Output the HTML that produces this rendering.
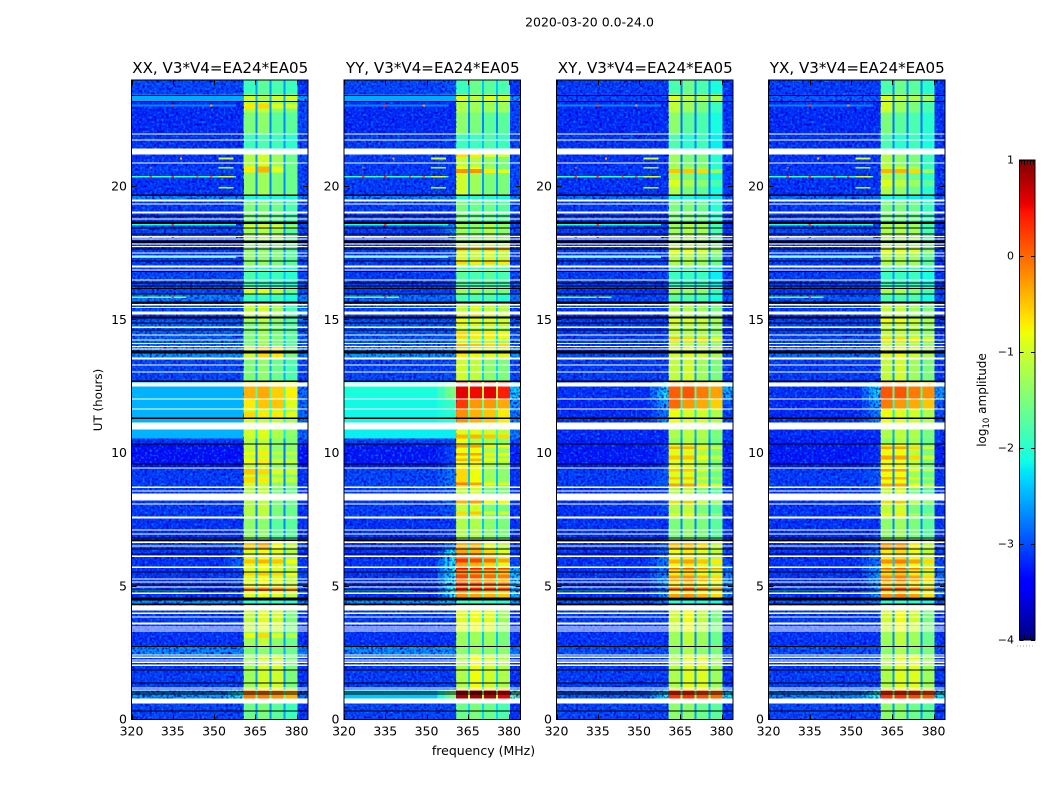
<!DOCTYPE html>
<html lang="en">
<head>
<meta charset="utf-8">
<title>2020-03-20 0.0-24.0</title>
<style>
html,body{margin:0;padding:0;background:#fff;width:1050px;height:800px;overflow:hidden}
svg{display:block}
text{font-family:"DejaVu Sans","Liberation Sans",sans-serif;fill:#000}
</style>
</head>
<body>
<svg id="figure" xmlns="http://www.w3.org/2000/svg" width="1050" height="800" viewBox="0 0 1050 800">
  <defs>
    <filter id="speckle-light" x="0" y="0" width="1" height="1" color-interpolation-filters="sRGB">
      <feTurbulence type="fractalNoise" baseFrequency="0.42" numOctaves="1" seed="3"/>
      <feColorMatrix type="matrix" values="0 0 0 0 0  0 0 0 0 0.55  0 0 0 0 1  3.2 0 0 0 -1.7"/>
    </filter>
    <filter id="speckle-dark" x="0" y="0" width="1" height="1" color-interpolation-filters="sRGB">
      <feTurbulence type="fractalNoise" baseFrequency="0.42" numOctaves="1" seed="11"/>
      <feColorMatrix type="matrix" values="0 0 0 0 0  0 0 0 0 0  0 0 0 0 0.82  0 3.2 0 0 -1.4"/>
    </filter>
    <linearGradient id="jet-gradient" x1="0" y1="1" x2="0" y2="0"></linearGradient>
  </defs>
  <text x="589.5" y="26.5" font-size="12.5" text-anchor="middle">2020-03-20 0.0-24.0</text>
  <text x="483.5" y="755" font-size="12.5" text-anchor="middle">frequency (MHz)</text>
  <text x="0" y="0" font-size="11.9" text-anchor="middle" transform="translate(102,400) rotate(-90)">UT (hours)</text>
  <text x="0" y="0" font-size="12" text-anchor="middle" transform="translate(986,400) rotate(-90)">log<tspan font-size="8.5" dy="3">10</tspan><tspan dy="-3"> amplitude</tspan></text>
</svg>
<script>
// ---- data -----------------------------------------------------------------
const panelTitles = ['XX, V3*V4=EA24*EA05','YY, V3*V4=EA24*EA05','XY, V3*V4=EA24*EA05','YX, V3*V4=EA24*EA05'];
const xTickLabels = [320,335,350,365,380];
const yTickLabels = [0,5,10,15,20];
const colorbarTicks = [-4,-3,-2,-1,0,1];

// band edges in MHz: [start,end] of the four bright sub-bands
const bandEdgesMHz = [[360.8,365],[365.8,370.2],[370.9,375.3],[376,380.4]];

// time-segment boundaries (UT hours), descending
const segmentEdgesUT = [24,23.45,23.19,22.77,21.97,21.2,20.75,20.52,19.66,19.51,18.68,17.97,17.03,16.21,15.95,15.61,14.97,14.03,13.58,12.72,12.01,11.63,10.88,10.54,10.32,9.42,8.70,7.54,6.72,6.42,5.70,4.58,4.28,3.30,2.74,2.44,1.09,0.79,0];

// log10 amplitude per segment: [background, shoulder, band1, band2, band3, band4, right-edge, notch]
const levelsXX = [
[-3.0,-3.0,-1.9,-1.7,-1.8,-1.9,-3.1,-2.6],
[-2.55,-2.55,-1.0,-1.2,-1.0,-1.0,-2.55,-2.5],
[-3.15,-3.15,-1.2,-1.1,-1.4,-1.5,-3.0,-2.6],
[-3.15,-3.15,-1.5,-1.4,-1.7,-1.7,-3.0,-2.7],
[-3.1,-3.1,-1.9,-1.8,-1.9,-2.0,-3.0,-2.6],
[-3.1,-3.1,-1.2,-1.0,-1.3,-1.6,-3.0,-2.6],
[-3.0,-3.0,-0.7,-0.4,-0.9,-1.6,-3.0,-2.6],
[-3.1,-3.1,-1.4,-1.3,-1.5,-1.6,-3.0,-2.7],
[-2.7,-2.7,-2.1,-2.1,-2.1,-2.1,-2.7,-2.4],
[-3.05,-3.05,-1.5,-1.5,-1.6,-1.8,-3.0,-2.6],
[-3.0,-3.0,-1.3,-1.2,-1.3,-1.7,-3.0,-2.6],
[-3.05,-3.05,-1.4,-1.4,-1.5,-1.7,-3.0,-2.6],
[-3.0,-3.0,-1.8,-1.9,-1.9,-2.0,-3.0,-2.4],
[-3.0,-3.0,-1.0,-0.9,-1.1,-1.6,-3.0,-2.6],
[-2.7,-2.7,-1.9,-1.9,-1.9,-2.1,-2.7,-2.4],
[-3.0,-3.0,-1.1,-1.0,-1.3,-1.8,-2.7,-2.6],
[-2.85,-2.85,-1.5,-1.3,-1.5,-1.7,-2.9,-2.4],
[-2.6,-2.6,-1.0,-0.6,-0.7,-1.5,-2.7,-2.4],
[-3.0,-3.0,-1.5,-1.4,-1.6,-1.8,-3.0,-2.5],
[-2.5,-2.5,-0.4,-0.35,-0.55,-0.75,-2.8,-1.7],
[-2.5,-2.5,-0.7,-0.5,-0.5,-0.9,-2.8,-2.0],
[-2.5,-2.5,-1.0,-1.1,-1.1,-1.3,-2.8,-2.1],
[-2.5,-2.5,-1.0,-0.9,-1.2,-1.4,-2.8,-2.2],
[-3.1,-3.1,-1.2,-1.1,-1.4,-1.5,-3.0,-2.6],
[-3.3,-3.3,-1.1,-1.0,-1.4,-1.4,-3.3,-2.8],
[-3.05,-3.05,-1.0,-1.1,-1.4,-1.5,-3.1,-2.7],
[-3.05,-3.05,-1.2,-1.1,-1.5,-1.6,-3.1,-2.7],
[-3.1,-3.1,-1.4,-1.4,-1.7,-1.7,-3.1,-2.7],
[-3.0,-2.9,-0.5,-0.35,-0.8,-1.1,-3.0,-2.4],
[-3.1,-2.8,-0.9,-0.8,-0.9,-1.2,-3.1,-2.4],
[-3.1,-3.0,-0.9,-0.8,-0.9,-1.1,-3.0,-2.4],
[-2.6,-2.6,-2.0,-1.9,-1.9,-2.0,-2.7,-2.4],
[-3.05,-3.05,-1.1,-0.9,-1.0,-1.5,-3.1,-2.5],
[-3.1,-3.1,-1.3,-1.1,-1.4,-1.6,-3.1,-2.6],
[-2.65,-2.65,-1.5,-1.4,-1.5,-1.6,-2.7,-2.5],
[-3.05,-3.05,-1.3,-1.0,-1.0,-1.5,-3.1,-2.6],
[-2.6,-2.1,-0.1,-0.1,-0.2,-0.4,-2.8,-1.6],
[-3.0,-3.0,-1.6,-1.5,-1.7,-1.9,-3.1,-2.6]
];
const levelsYY = [
[-3.0,-2.9,-1.9,-1.6,-1.7,-1.8,-3.1,-2.4],
[-2.55,-2.55,-0.9,-1.1,-0.9,-1.0,-2.6,-2.5],
[-3.15,-3.15,-1.2,-1.3,-1.3,-1.3,-3.0,-2.6],
[-3.15,-3.15,-1.4,-1.5,-1.7,-1.7,-3.0,-2.7],
[-3.05,-3.05,-1.9,-1.9,-1.8,-1.9,-3.0,-2.4],
[-3.05,-3.05,-1.1,-1.2,-1.4,-1.5,-3.0,-2.6],
[-3.05,-3.05,-0.8,-0.8,-1.3,-1.5,-3.0,-2.6],
[-3.05,-3.05,-1.0,-1.3,-1.5,-1.5,-3.0,-2.6],
[-2.7,-2.7,-2.0,-2.0,-2.0,-2.1,-2.7,-2.4],
[-3.05,-3.05,-1.5,-1.6,-1.6,-1.7,-3.0,-2.4],
[-3.05,-2.7,-1.3,-1.4,-1.2,-1.4,-3.0,-2.2],
[-3.05,-2.9,-1.0,-1.1,-1.0,-1.1,-3.0,-2.2],
[-3.05,-3.05,-1.7,-1.8,-1.7,-1.8,-3.0,-2.2],
[-3.05,-3.05,-1.3,-1.3,-1.4,-1.5,-3.0,-2.4],
[-2.8,-2.8,-1.8,-1.8,-1.8,-2.0,-2.8,-2.4],
[-3.0,-3.0,-1.1,-1.0,-1.1,-1.2,-3.0,-2.3],
[-2.9,-2.9,-1.1,-1.2,-1.2,-1.3,-2.9,-2.2],
[-2.6,-2.6,-0.7,-0.8,-0.9,-0.9,-2.6,-2.1],
[-3.0,-3.0,-1.0,-1.1,-1.4,-1.5,-3.0,-2.3],
[-2.1,-1.5,0.55,0.5,0.55,0.4,-2.3,-1.2],
[-2.15,-1.9,0.25,-0.25,-0.25,-0.35,-2.6,-1.6],
[-2.15,-2.0,-0.2,-0.4,-0.5,-0.7,-2.7,-1.7],
[-2.2,-2.2,-0.9,-0.9,-1.0,-1.1,-2.7,-1.9],
[-3.0,-3.0,-0.8,-1.2,-1.3,-1.4,-3.0,-2.2],
[-3.25,-3.0,-0.8,-0.8,-1.2,-1.3,-3.2,-2.5],
[-3.0,-2.7,-0.6,-0.8,-1.3,-1.4,-3.1,-2.4],
[-3.05,-2.9,-1.1,-1.0,-1.5,-1.5,-3.1,-2.4],
[-3.1,-3.1,-1.2,-1.2,-1.4,-1.5,-3.1,-2.4],
[-3.1,-2.8,-0.4,-0.4,-0.9,-1.1,-3.1,-2.2],
[-3.1,-2.1,-0.3,-0.4,-0.6,-0.9,-3.0,-2.0],
[-3.1,-2.1,-0.2,-0.3,-0.4,-0.5,-2.4,-1.9],
[-2.6,-2.4,-1.9,-1.8,-1.9,-2.0,-2.6,-2.2],
[-3.05,-3.05,-0.9,-0.8,-0.9,-1.3,-3.1,-2.2],
[-3.1,-3.1,-1.3,-1.3,-1.3,-1.5,-3.1,-2.4],
[-2.62,-2.6,-1.4,-1.3,-1.4,-1.4,-2.7,-2.3],
[-3.05,-3.05,-1.2,-0.8,-1.0,-1.2,-3.1,-2.3],
[-2.4,-1.5,0.8,0.85,0.75,0.55,-1.7,-1.2],
[-3.0,-3.0,-1.6,-1.5,-1.6,-1.8,-3.1,-2.3]
];
const levelsXY = [
[-3.05,-3.05,-1.8,-1.6,-1.8,-2.1,-3.1,-2.7],
[-3.0,-3.0,-0.9,-1.1,-1.2,-1.2,-3.0,-2.7],
[-3.15,-3.15,-1.1,-1.3,-1.5,-1.9,-3.1,-2.8],
[-3.15,-3.15,-1.4,-1.7,-1.8,-2.1,-3.1,-2.8],
[-3.1,-3.1,-1.8,-2.0,-1.9,-2.2,-3.1,-2.7],
[-3.1,-3.1,-1.3,-1.5,-1.5,-2.0,-3.1,-2.8],
[-3.05,-3.05,-1.2,-1.2,-1.3,-2.0,-3.1,-2.8],
[-3.1,-3.1,-1.2,-1.5,-1.7,-2.1,-3.1,-2.8],
[-2.8,-2.8,-2.1,-2.1,-2.2,-2.2,-2.9,-2.5],
[-3.05,-3.05,-1.5,-1.5,-1.6,-2.0,-3.1,-2.7],
[-3.05,-3.05,-1.3,-1.2,-1.3,-1.8,-3.1,-2.8],
[-3.05,-3.05,-1.2,-1.2,-1.3,-1.6,-3.1,-2.7],
[-3.05,-3.05,-1.9,-1.9,-1.9,-2.2,-3.1,-2.6],
[-3.1,-3.1,-1.3,-1.3,-1.4,-1.9,-3.1,-2.7],
[-3.0,-3.0,-1.7,-1.8,-1.8,-2.1,-3.0,-2.6],
[-3.05,-3.05,-1.2,-1.2,-1.3,-1.5,-3.1,-2.7],
[-3.05,-3.05,-1.1,-1.2,-1.2,-1.4,-3.1,-2.6],
[-3.0,-3.0,-1.0,-0.9,-1.0,-1.2,-3.0,-2.5],
[-3.05,-3.05,-1.1,-1.0,-1.3,-1.5,-3.1,-2.6],
[-3.1,-2.2,0.05,0.1,-0.1,-0.3,-2.5,-1.7],
[-3.15,-2.5,0.0,-0.25,-0.35,-0.55,-2.9,-2.0],
[-3.15,-2.7,-0.8,-0.95,-1.0,-1.2,-3.0,-2.2],
[-3.15,-3.15,-1.2,-1.1,-1.2,-1.5,-3.1,-2.5],
[-3.2,-3.2,-1.4,-1.2,-1.3,-1.6,-3.1,-2.6],
[-3.25,-3.1,-0.9,-0.9,-1.2,-1.5,-3.2,-2.7],
[-3.05,-2.9,-0.9,-0.9,-1.3,-1.6,-3.1,-2.7],
[-3.1,-3.0,-1.2,-1.1,-1.5,-1.7,-3.1,-2.7],
[-3.1,-3.1,-1.5,-1.4,-1.5,-1.7,-3.1,-2.7],
[-3.1,-2.9,-0.45,-0.45,-0.6,-1.1,-3.1,-2.5],
[-3.1,-2.7,-0.8,-0.7,-0.9,-1.1,-3.0,-2.4],
[-3.1,-2.6,-0.7,-0.6,-0.8,-1.0,-2.7,-2.3],
[-2.9,-2.7,-2.0,-2.0,-2.0,-2.1,-2.9,-2.6],
[-3.05,-3.05,-1.0,-0.8,-1.1,-1.5,-3.1,-2.6],
[-3.1,-3.1,-1.3,-1.1,-1.3,-1.6,-3.1,-2.7],
[-2.95,-2.95,-1.4,-1.2,-1.4,-1.5,-3.0,-2.6],
[-3.05,-3.05,-1.2,-0.9,-0.9,-1.3,-3.1,-2.6],
[-2.9,-2.2,0.3,0.3,0.15,0.0,-2.2,-1.5],
[-3.0,-3.0,-1.4,-1.4,-1.6,-1.7,-3.1,-2.6]
];
const levelsYX = [
[-3.05,-3.05,-1.8,-1.6,-1.7,-2.0,-3.1,-2.7],
[-2.9,-2.9,-0.9,-1.1,-1.2,-1.3,-3.0,-2.7],
[-3.15,-3.15,-1.0,-1.3,-1.5,-1.8,-3.1,-2.8],
[-3.15,-3.15,-1.5,-1.7,-1.8,-2.0,-3.1,-2.8],
[-3.1,-3.1,-1.8,-2.0,-1.9,-2.1,-3.1,-2.7],
[-3.1,-3.1,-1.2,-1.4,-1.5,-1.9,-3.1,-2.8],
[-3.05,-3.05,-1.0,-1.0,-1.2,-1.9,-3.1,-2.8],
[-3.1,-3.1,-1.2,-1.4,-1.6,-2.0,-3.1,-2.8],
[-2.8,-2.8,-2.1,-2.1,-2.2,-2.2,-2.9,-2.5],
[-3.05,-3.05,-1.5,-1.5,-1.6,-1.9,-3.1,-2.7],
[-3.0,-3.0,-1.2,-1.2,-1.3,-1.8,-3.1,-2.8],
[-3.05,-3.05,-1.2,-1.2,-1.3,-1.7,-3.1,-2.7],
[-3.05,-3.05,-1.9,-1.9,-1.9,-2.1,-3.1,-2.6],
[-3.1,-3.1,-1.2,-1.2,-1.4,-1.8,-3.1,-2.7],
[-2.9,-2.9,-1.8,-1.8,-1.8,-2.1,-3.0,-2.6],
[-3.05,-3.05,-1.1,-1.1,-1.3,-1.5,-3.1,-2.7],
[-3.0,-3.0,-1.1,-1.1,-1.2,-1.4,-3.1,-2.6],
[-2.8,-2.8,-0.9,-0.8,-1.0,-1.2,-2.9,-2.5],
[-3.05,-3.05,-1.1,-1.0,-1.3,-1.5,-3.1,-2.6],
[-3.1,-2.2,0.1,0.1,-0.1,-0.2,-2.6,-1.7],
[-3.15,-2.5,-0.1,-0.25,-0.35,-0.5,-2.9,-2.0],
[-3.15,-2.7,-0.8,-0.9,-1.0,-1.2,-3.0,-2.2],
[-3.15,-3.15,-1.2,-1.1,-1.2,-1.5,-3.1,-2.5],
[-3.2,-3.2,-1.4,-1.2,-1.3,-1.6,-3.1,-2.6],
[-3.25,-3.1,-0.8,-0.8,-1.1,-1.5,-3.2,-2.7],
[-3.05,-2.9,-0.8,-0.8,-1.3,-1.6,-3.1,-2.7],
[-3.1,-3.0,-1.1,-1.0,-1.5,-1.7,-3.1,-2.7],
[-3.1,-3.1,-1.4,-1.3,-1.5,-1.7,-3.1,-2.7],
[-3.1,-2.9,-0.25,-0.25,-0.7,-1.1,-3.1,-2.5],
[-3.1,-2.7,-0.7,-0.6,-0.8,-1.1,-3.0,-2.4],
[-3.1,-2.6,-0.6,-0.5,-0.7,-1.0,-2.8,-2.3],
[-2.9,-2.7,-2.0,-1.9,-2.0,-2.1,-2.9,-2.6],
[-3.05,-3.05,-1.0,-0.8,-1.0,-1.5,-3.1,-2.6],
[-3.1,-3.1,-1.3,-1.1,-1.3,-1.6,-3.1,-2.7],
[-2.95,-2.95,-1.4,-1.2,-1.4,-1.5,-3.0,-2.6],
[-3.05,-3.05,-1.2,-0.9,-0.9,-1.3,-3.1,-2.6],
[-2.7,-2.0,0.3,0.3,0.2,0.1,-2.2,-1.5],
[-3.0,-3.0,-1.4,-1.4,-1.6,-1.7,-3.1,-2.6]
];
const panelLevels = [levelsXX, levelsYY, levelsXY, levelsYX];

// brighter sub-rows inside the bands: [lowUT, highUT, added log10 amplitude]
const stripesXX = [[22.93,23.12,0.5],[18.43,18.55,0.5],[11.3,11.55,0.4],[9.95,10.05,0.3],[9.6,9.8,0.3],[9.2,9.4,0.5],[8.9,9.1,0.4],[5.85,6.0,0.4],[5.4,5.5,0.3],[4.83,4.95,0.7],[3.05,3.25,0.5]];
const stripesYY = [[21.1,21.2,0.5],[20.5,20.65,0.6],[17.6,17.75,0.6],[17.1,17.25,0.4],[15.15,15.25,0.4],[14.8,15.05,0.3],[14.45,14.55,0.5],[14.3,14.45,0.5],[13.95,14.1,0.3],[10.55,10.7,0.5],[10.2,10.3,0.5],[9.9,10.0,0.5],[9.7,9.8,0.4],[8.8,8.9,0.5],[8.1,8.22,0.7],[7.7,7.8,0.5],[5.9,6.05,0.6],[5.62,5.68,0.7],[5.3,5.45,0.4],[5.05,5.14,0.5],[4.88,4.95,0.7]];
const stripesXY = [[20.5,20.65,0.7],[20.0,20.25,0.3],[17.5,17.65,0.4],[14.85,15.1,0.3],[14.2,14.35,0.6],[10.15,10.25,0.5],[9.75,9.9,0.4],[9.3,9.4,0.4],[9.0,9.1,0.4],[8.75,8.85,0.6],[8.1,8.2,0.6],[7.65,7.75,0.3],[5.85,6.0,0.4],[5.62,5.68,0.7],[5.3,5.4,0.4],[5.2,5.25,0.4],[4.85,4.95,0.8],[4.6,4.7,0.4]];
const stripesYX = [[20.5,20.65,0.6],[20.0,20.25,0.3],[17.5,17.65,0.4],[14.85,15.1,0.3],[14.2,14.35,0.5],[10.15,10.25,0.5],[9.75,9.9,0.5],[9.3,9.4,0.5],[9.0,9.1,0.4],[8.75,8.85,0.5],[8.1,8.2,0.5],[7.65,7.75,0.3],[5.85,6.0,0.5],[5.62,5.68,0.6],[5.3,5.4,0.4],[5.2,5.25,0.4],[4.85,4.95,0.7],[4.6,4.7,0.4]];
const panelStripes = [stripesXX, stripesYY, stripesXY, stripesYX];

// flagged (blank) time ranges, [lowUT, highUT]
const flaggedUT = [[21.95,21.99],[21.72,21.76],[21.20,21.42],[20.86,20.90],[19.44,19.51],[19.32,19.36],[18.98,19.06],[18.76,18.80],[18.10,18.14],[18.01,18.05],[17.82,17.86],[17.73,17.77],[17.48,17.52],[17.37,17.41],[16.96,17.03],[16.85,16.88],[16.47,16.51],[15.53,15.59],[15.44,15.48],[15.25,15.31],[15.20,15.25],[14.69,14.75],[14.41,14.44],[14.22,14.26],[14.09,14.13],[13.98,14.01],[13.88,13.92],[13.51,13.58],[13.28,13.32],[13.02,13.06],[12.49,12.64],[12.01,12.04],[11.63,11.67],[10.88,11.14],[9.42,9.46],[8.69,8.74],[8.55,8.59],[8.22,8.48],[8.07,8.10],[7.54,7.62],[7.09,7.13],[6.94,6.98],[6.62,6.68],[6.49,6.53],[6.10,6.15],[5.68,5.74],[5.25,5.29],[5.14,5.18],[4.95,4.99],[4.71,4.76],[4.09,4.28],[3.96,4.01],[3.83,3.86],[3.56,3.64],[3.45,3.49],[3.38,3.41],[3.30,3.34],[2.40,2.44],[2.31,2.36],[2.21,2.25],[2.12,2.18],[2.01,2.06],[1.16,1.20],[1.09,1.13],[0.60,0.79]];

// zero-amplitude (black) time ranges, [lowUT, highUT]
const zeroUT = [[23.39,23.43],[23.17,23.21],[19.64,19.70],[18.87,18.91],[18.59,18.68],[18.42,18.46],[18.20,18.23],[17.88,17.97],[17.63,17.67],[17.18,17.22],[16.79,16.83],[16.36,16.40],[16.25,16.28],[16.15,16.19],[15.95,15.98],[15.61,15.68],[15.05,15.12],[14.86,14.90],[14.60,14.63],[13.73,13.84],[12.66,12.72],[11.27,11.33],[10.32,10.36],[9.57,9.61],[6.79,6.83],[6.70,6.75],[6.38,6.42],[6.19,6.23],[5.52,5.55],[5.03,5.07],[4.84,4.88],[4.46,4.58],[4.30,4.35],[2.72,2.76],[1.84,1.88],[1.35,1.39],[1.01,1.05],[0.94,0.98],[0.30,0.34]];

// narrow-band interference: [UT, startMHz, endMHz, level]
const rfiLines = [[23.04,320,358,-2.7],[21.05,351.6,357,-1.0],[20.71,351.6,357,-1.2],[20.37,320,358,-1.9],[20.37,351.6,357,-0.9],[19.96,351.6,357,-1.2],[18.57,320,358,-2.0],[18.09,320,358,-1.9],[18.09,320,337,-1.2],[17.34,320,358,-1.9],[15.84,320,340,-1.6],[4.85,320,345,-2.3]];

// isolated hot channels: [UT, MHz, level]
const rfiSpikes = [[23.04,335,0.2],[23.04,349,-0.3],[20.37,327,0.2],[20.37,335,0.3],[20.37,344,0.1],[20.37,349,0.1],[18.57,335,0.2],[18.09,327,0.1],[18.09,335,0.3],[15.84,335,0.2],[21.05,338,-0.4],[20.71,327,0.1]];

// ---- axis functions --------------------------------------------------------
const NS = 'http://www.w3.org/2000/svg';
const svg = document.getElementById('figure');
const panelLeft = [131.5,344,556.5,768.5];
const panelWidth = 176.5;
const plotTop = 80;
const plotBottom = 719.5;
const pxPerMHz = 2.75;
const pxPerHour = 26.65;
const fx = (p, mhz) => panelLeft[p] + (mhz - 320) * pxPerMHz;
const uy = ut => plotBottom - ut * pxPerHour;
const cbTop = 160, cbBottom = 640, cbLeft = 1019.5, cbRight = 1035;
const cy = v => cbBottom - (v + 4) / 5 * (cbBottom - cbTop);
const fMax = 320 + panelWidth / pxPerMHz;

function lerpTable(t, table){
  for(let i = 1; i < table.length; i++){
    if(t <= table[i][0]){
      const a = table[i-1], b = table[i];
      return a[1] + (b[1]-a[1]) * (t-a[0]) / (b[0]-a[0]);
    }
  }
  return table[table.length-1][1];
}
const jetR = [[0,0],[0.35,0],[0.66,1],[0.89,1],[1,0.5]];
const jetG = [[0,0],[0.125,0],[0.375,1],[0.64,1],[0.91,0],[1,0]];
const jetB = [[0,0.5],[0.11,1],[0.34,1],[0.65,0],[1,0]];
function jet(v){
  const t = Math.max(0, Math.min(1, (v + 4) / 5));
  const c = x => Math.round(x * 255);
  return 'rgb(' + c(lerpTable(t,jetR)) + ',' + c(lerpTable(t,jetG)) + ',' + c(lerpTable(t,jetB)) + ')';
}
function make(tag, parent, attrs){
  const e = document.createElementNS(NS, tag);
  for(const k in attrs) e.setAttribute(k, attrs[k]);
  parent.appendChild(e);
  return e;
}
function cell(g, p, f0, f1, ut0, ut1, color){
  const top = uy(ut1);
  const c = make('rect', g, {x: fx(p,f0), y: top, width: (f1-f0)*pxPerMHz, height: uy(ut0)-top, fill: color});
  
  
  return c;
}
function backgroundCells(g, p, row, lo, hi){
  const bg = row[0], sh = row[1];
  cell(g, p, 320, 354, lo, hi, jet(bg));
  cell(g, p, 354, 356.5, lo, hi, jet(bg + (sh-bg)*0.35));
  cell(g, p, 356.5, 358.8, lo, hi, jet(bg + (sh-bg)*0.75));
  cell(g, p, 358.8, bandEdgesMHz[0][0], lo, hi, jet(sh));
}
function rowAt(levels, ut){
  for(let s = 0; s < levels.length; s++){
    if(ut <= segmentEdgesUT[s] && ut >= segmentEdgesUT[s+1]) return levels[s];
  }
  return levels[0];
}

// ---- panels ----------------------------------------------------------------
panelTitles.forEach(function(title, p){
  const levels = panelLevels[p];
  const panel = make('g', svg, {});
  
  

  const heat = make('g', panel, {'shape-rendering':'crispEdges'});
  
  

  levels.forEach(function(row, s){
    const hi = segmentEdgesUT[s], lo = segmentEdgesUT[s+1];
    const edge = row[6], notch = row[7];
    backgroundCells(heat, p, row, lo, hi);
    cell(heat, p, bandEdgesMHz[3][1], fMax, lo, hi, jet(edge));
    cell(heat, p, bandEdgesMHz[0][1]-0.2, bandEdgesMHz[3][1], lo, hi, jet(notch));
    bandEdgesMHz.forEach(function(b, i){
      cell(heat, p, b[0], b[1], lo, hi, jet(row[2+i]));
    });
  });

  panelStripes[p].forEach(function(st){
    const row = rowAt(levels, (st[0]+st[1])/2);
    bandEdgesMHz.forEach(function(b, i){
      cell(heat, p, b[0], b[1], st[0], st[1], jet(row[2+i] + st[2]));
    });
  });

  // per-channel speckle on the off-band background
  [[320,bandEdgesMHz[0][0]],[bandEdgesMHz[3][1],fMax]].forEach(function(r){
    ['speckle-dark','speckle-light'].forEach(function(id){
      const n = make('rect', panel, {x: fx(p,r[0]), y: plotTop, width: (r[1]-r[0])*pxPerMHz, height: plotBottom-plotTop, fill:'#000', filter:'url(#' + id + ')'});
      
      
    });
  });

  const marks = make('g', panel, {'shape-rendering':'crispEdges'});
  
  

  // wideband-bright segments are smooth rather than speckled
  levels.forEach(function(row, s){
    if(row[0] > -2.6) backgroundCells(marks, p, row, segmentEdgesUT[s+1], segmentEdgesUT[s]);
  });

  rfiLines.forEach(function(l){
    cell(marks, p, l[1], l[2], l[0]-0.03, l[0]+0.03, jet(l[3]));
  });
  rfiSpikes.forEach(function(s){
    cell(marks, p, s[1]-0.4, s[1]+0.4, s[0]-0.03, s[0]+0.03, jet(s[2]));
  });
  zeroUT.forEach(function(r){
    const b = cell(marks, p, 320, fMax, r[0], r[1], '#000');
    
  });
  flaggedUT.forEach(function(r){
    const w = cell(marks, p, 320, fMax, r[0], r[1], '#fff');
    
  });

  // frame
  const frame = make('rect', panel, {x: panelLeft[p], y: plotTop, width: panelWidth, height: plotBottom-plotTop, fill:'none', stroke:'#000', 'stroke-width':1});
  
  

  // x ticks
  xTickLabels.forEach(function(v){
    const x = Math.round(fx(p,v)) + 0.5;
    const t = make('path', panel, {d:'M'+x+' '+plotBottom+'v-5M'+x+' '+plotTop+'v5', stroke:'#000', 'stroke-width':1, fill:'none'});
    
    
    const lab = make('text', panel, {x: fx(p,v), y: 735.5, 'font-size':12.5, 'text-anchor':'middle'});
    
    
    lab.textContent = v;
  });
  // y ticks
  yTickLabels.forEach(function(v){
    const y = Math.round(uy(v) - 0.5) + 0.5;
    const xl = panelLeft[p], xr = panelLeft[p] + panelWidth;
    const t = make('path', panel, {d:'M'+xl+' '+y+'h5M'+xr+' '+y+'h-5', stroke:'#000', 'stroke-width':1, fill:'none'});
    
    
    const lab = make('text', panel, {x: xl - 4.5, y: uy(v) + 4, 'font-size':12.5, 'text-anchor':'end'});
    
    
    lab.textContent = v;
  });
  // title
  const ttl = make('text', panel, {x: panelLeft[p] + panelWidth/2 + 0.5, y: 73, 'font-size':15.1, 'text-anchor':'middle'});
  
  
  ttl.textContent = title;
});

// ---- colorbar --------------------------------------------------------------
const grad = document.getElementById('jet-gradient');
[0,0.11,0.125,0.34,0.35,0.375,0.64,0.65,0.66,0.89,0.91,1].forEach(function(t){
  make('stop', grad, {offset: t, 'stop-color': jet(t*5-4)});
});
const cb = make('g', svg, {});


const cbFill = make('rect', cb, {x: cbLeft, y: cbTop, width: cbRight-cbLeft, height: cbBottom-cbTop, fill:'url(#jet-gradient)', stroke:'#000', 'stroke-width':1});


colorbarTicks.forEach(function(v){
  const y = Math.round(cy(v)) + 0.5;
  const t = make('path', cb, {d:'M'+cbLeft+' '+y+'h4M'+cbRight+' '+y+'h-4', stroke:'#000', 'stroke-width':1, fill:'none'});
  
  
  const lab = make('text', cb, {x: 1014, y: cy(v) + 3.5, 'font-size':11, 'text-anchor':'end'});
  
  
  lab.textContent = (v < 0 ? '\u2212' + (-v) : String(v));
});
[-1,1].forEach(function(side){
  const y = side > 0 ? cbTop : cbBottom;
  const d = [0,1,2,3,4].map(function(i){ return 'M'+(cbLeft+2+i*3)+' '+y+'v'+(side*5); }).join('');
  const m = make('path', cb, {d: d, stroke:'#000', 'stroke-width':1, fill:'none'});
  
  
});
const dots = make('path', cb, {d:'M1017 646h18', stroke:'#aaa', 'stroke-width':1, 'stroke-dasharray':'1 2', fill:'none'});


</script>
</body>
</html>
